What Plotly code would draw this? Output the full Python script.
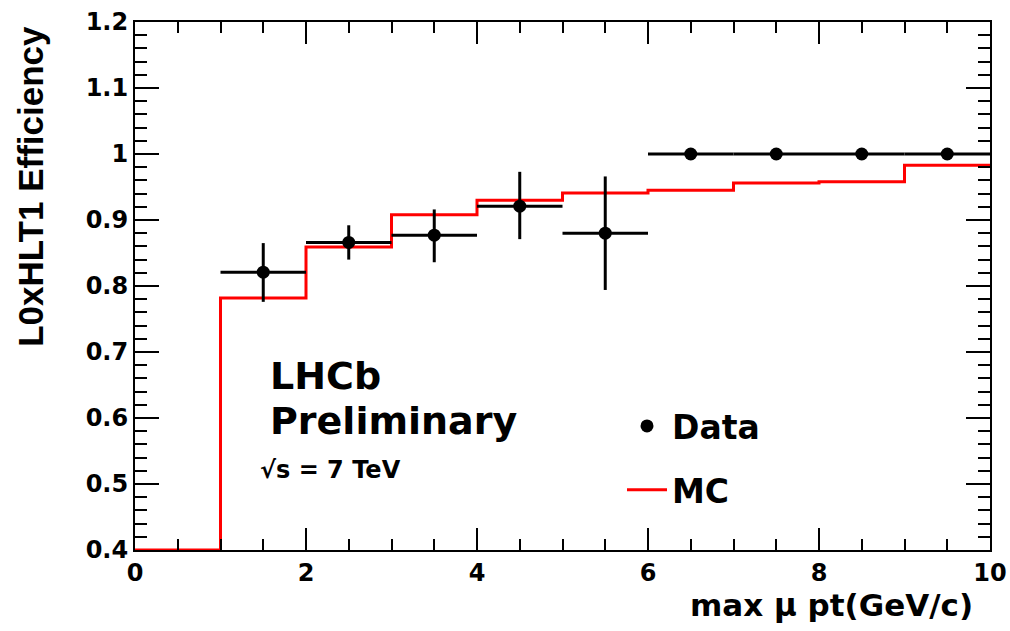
import plotly.graph_objects as go

# Bin edges in max muon pt (GeV/c)
bin_edges = [0, 1, 2, 3, 4, 5, 6, 7, 8, 9, 10]
bin_centers = [1.5, 2.5, 3.5, 4.5, 5.5, 6.5, 7.5, 8.5, 9.5]

# Measured efficiency (data) with asymmetric errors
data_eff = [0.821, 0.866, 0.877, 0.921, 0.880, 1.0, 1.0, 1.0, 1.0]
data_err_up = [0.044, 0.026, 0.039, 0.052, 0.086, 0.0, 0.0, 0.0, 0.0]
data_err_down = [0.045, 0.026, 0.041, 0.050, 0.086, 0.0, 0.0, 0.0, 0.0]
data_half_width = [0.5] * 9

# Simulated efficiency per bin
mc_eff = [0.4, 0.782, 0.859, 0.908, 0.930, 0.941, 0.945, 0.956, 0.958, 0.983]

WIDE = "DejaVu Sans, Liberation Sans, Arial, sans-serif"
NARROW = "Liberation Sans Narrow, Liberation Sans, Arial, sans-serif"

fig = go.Figure()

fig.add_trace(go.Scatter(
    x=bin_edges,
    y=mc_eff + [mc_eff[-1]],
    mode="lines",
    line=dict(color="#ff0000", width=3, shape="hv"),
    name="MC",
    legendgroup="mc",
    legendrank=2,
))

fig.add_trace(go.Scatter(
    x=bin_centers,
    y=data_eff,
    mode="markers",
    marker=dict(color="black", size=13),
    error_x=dict(type="data", array=data_half_width, symmetric=True,
                 color="black", thickness=3, width=0),
    error_y=dict(type="data", array=data_err_up, arrayminus=data_err_down,
                 symmetric=False, color="black", thickness=3, width=0),
    name="Data",
    legendgroup="data",
    legendrank=1,
))

axis_common = dict(
    showline=True, linecolor="black", linewidth=2, mirror="ticks",
    ticks="inside", tickcolor="black", tickwidth=2,
    showgrid=False, zeroline=False, automargin=False,
    tickfont=dict(family=WIDE, size=24, color="black", weight="bold"),
)

fig.update_xaxes(
    range=[0, 10], tickvals=[0, 2, 4, 6, 8, 10], ticklen=22,
    minor=dict(dtick=0.5, ticklen=11, tickcolor="black", tickwidth=2, ticks="inside"),
    **axis_common,
)
fig.update_yaxes(
    range=[0.4, 1.2], tickvals=[0.4, 0.5, 0.6, 0.7, 0.8, 0.9, 1.0, 1.1, 1.2],
    ticktext=["0.4", "0.5", "0.6", "0.7", "0.8", "0.9", "1", "1.1", "1.2"],
    ticklen=24,
    minor=dict(dtick=0.02, ticklen=12, tickcolor="black", tickwidth=2, ticks="inside"),
    **axis_common,
)

annotations = [
    dict(text="<b>L0xHLT1 Efficiency</b>", xref="paper", yref="paper",
         x=-0.1216, y=0.688, textangle=-90, showarrow=False,
         xanchor="center", yanchor="middle",
         font=dict(family=NARROW, size=35, color="black")),
    dict(text="<b>max \u03bc pt(GeV/c)</b>", xref="paper", yref="paper",
         x=0.982, y=-0.104, showarrow=False, xanchor="right", yanchor="middle",
         font=dict(family=WIDE, size=31, color="black")),
    dict(text="<b>LHCb</b>", xref="paper", yref="paper",
         x=(268 - 135) / 855, y=(550 - 376) / 528, showarrow=False,
         xanchor="left", yanchor="middle",
         font=dict(family=WIDE, size=38, color="black")),
    dict(text="<b>Preliminary</b>", xref="paper", yref="paper",
         x=(268 - 135) / 855, y=(550 - 421) / 528, showarrow=False,
         xanchor="left", yanchor="middle",
         font=dict(family=WIDE, size=38, color="black")),
    dict(text="<b>\u221as = 7 TeV</b>", xref="paper", yref="paper",
         x=(258 - 135) / 855, y=(550 - 470) / 528, showarrow=False,
         xanchor="left", yanchor="middle",
         font=dict(family=WIDE, size=24, color="black")),
]

fig.update_layout(
    width=1010, height=631,
    margin=dict(l=135, r=20, t=22, b=81, autoexpand=False),
    paper_bgcolor="white", plot_bgcolor="white",
    showlegend=True,
    legend=dict(
        x=(622 - 135) / 855, y=(550 - 398) / 528, xanchor="left", yanchor="top",
        bgcolor="rgba(0,0,0,0)", borderwidth=0, tracegroupgap=18,
        font=dict(family=WIDE, size=33, color="black", weight="bold"),
        itemwidth=40,
    ),
    annotations=annotations,
)

fig.write_html("out.html")
